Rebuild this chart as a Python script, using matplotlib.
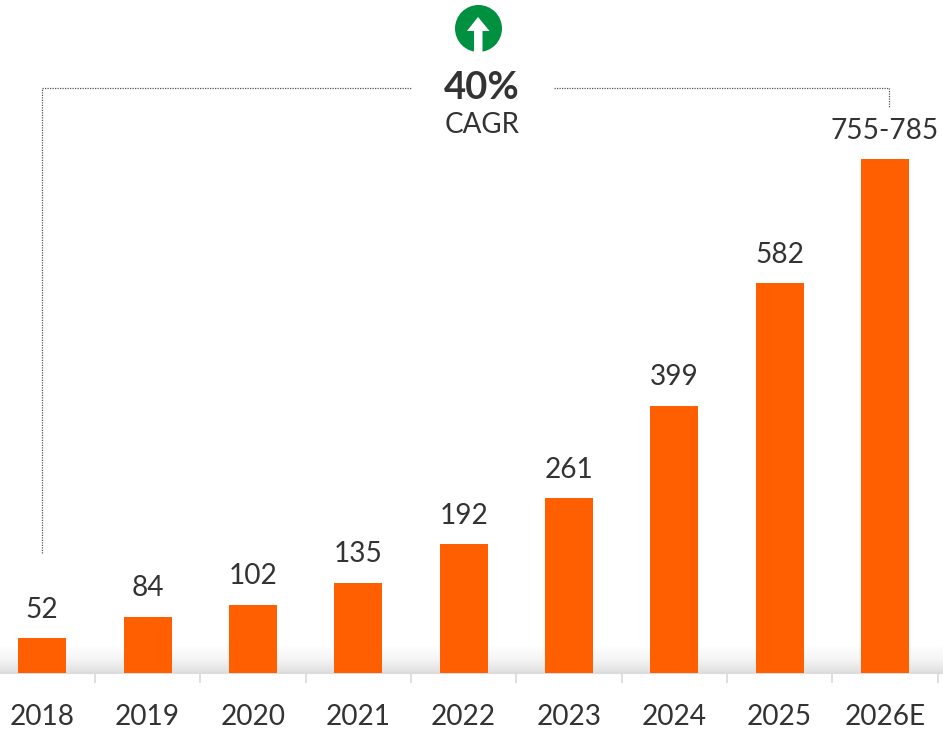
import matplotlib
matplotlib.use('Agg')
import matplotlib.pyplot as plt
import numpy as np
from matplotlib.colors import LinearSegmentedColormap
from matplotlib.patches import Circle, Polygon

years = ['2018', '2019', '2020', '2021', '2022', '2023', '2024', '2025', '2026E']
values = [52, 84, 102, 135, 192, 261, 399, 582, 767]  # 2026E drawn near the middle of the range
labels = ['52', '84', '102', '135', '192', '261', '399', '582', '755-785']

W, H = 943, 731
TEXT = '#333333'
plt.rcParams['font.family'] = ['Lato', 'DejaVu Sans']

fig = plt.figure(figsize=(W / 100, H / 100), dpi=100)
base = 673  # pixel row of the axis line
ax = fig.add_axes([0, (H - base) / H, 1, base / H])

step = 105.35
x = np.arange(len(years))
ax.set_xlim(-42.2 / step, (W - 42.2) / step)
ax.set_ylim(0, base / 0.67)

bars = ax.bar(x, values, width=48 / step, color='#ff5f00', zorder=3)
ax.bar_label(bars, labels=labels, padding=11, fontsize=20.2, color=TEXT)

# grey fade just above the axis
fade = LinearSegmentedColormap.from_list('fade', ['#e0e0e0', '#f5f5f5', '#ffffff'])
ax.imshow(np.linspace(0, 1, 64).reshape(-1, 1), cmap=fade, aspect='auto', origin='lower',
          extent=(ax.get_xlim()[0], ax.get_xlim()[1], 0, 28 / 0.67), zorder=0)
ax.set_ylim(0, base / 0.67)

for s in ['top', 'left', 'right']:
    ax.spines[s].set_visible(False)
ax.spines['bottom'].set_color('#dcdcdc')
ax.spines['bottom'].set_linewidth(1.5)
ax.set_yticks([])
ax.set_xticks(x)
ax.set_xticklabels(years, fontsize=20.2, color=TEXT)
ax.tick_params(axis='x', which='major', length=0, pad=22.5)
ax.set_xticks(x + 0.5, minor=True)
ax.tick_params(axis='x', which='minor', length=7, width=1.2, color='#d9d9d9')

# overlay in pixel coordinates for the CAGR callout
ov = fig.add_axes([0, 0, 1, 1])
ov.set_xlim(0, W)
ov.set_ylim(H, 0)
ov.axis('off')
ov.patch.set_alpha(0)

line = dict(color='#555555', lw=0.9, ls=(0, (1, 1)))
ov.plot([42, 42, 412], [553, 88, 88], **line)
ov.plot([554, 889, 889], [88, 88, 108], **line)

ov.add_patch(Circle((478.5, 28.5), 23.5, color='#009140', lw=0))
ov.add_patch(Polygon([(478, 17), (489.5, 31), (482.5, 31), (482.5, 53), (474, 53), (474, 31), (467, 31)],
                     closed=True, color='white', lw=0))

ov.text(482, 88, '40%', fontsize=27.5, fontweight='bold', color=TEXT, ha='center', va='center')
ov.text(482, 125, 'CAGR', fontsize=20, color=TEXT, ha='center', va='center')

fig.savefig('out.png', dpi=100)
